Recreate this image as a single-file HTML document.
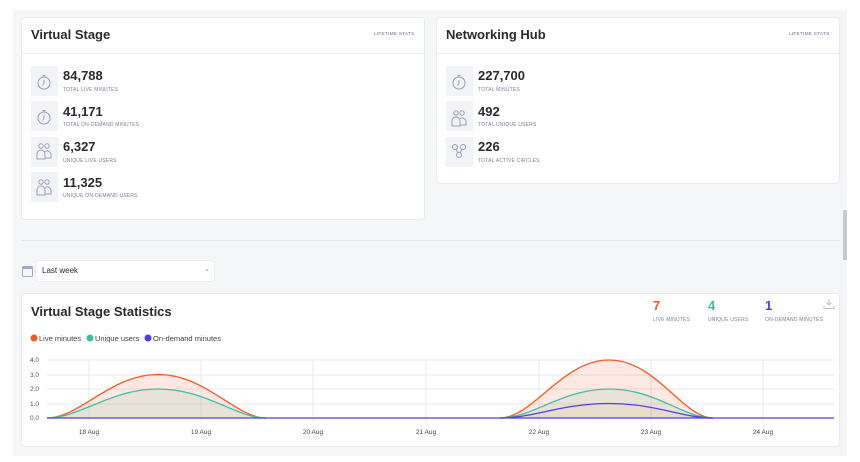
<!DOCTYPE html>
<html><head><meta charset="utf-8"><style>
*{margin:0;padding:0;box-sizing:border-box}
body{width:860px;height:462px;background:#fff;font-family:"Liberation Sans",sans-serif;position:relative;overflow:hidden;color:#2b2b33}
.a{position:absolute}
.bg{left:13px;top:10px;width:834px;height:446px;background:#f5f6f8}
.card{background:#fff;border:1px solid #e9eaee;border-radius:4px}
.t{font-weight:bold;font-size:13px;color:#2a2a30}
.ls{font-size:4.8px;color:#6b7090;letter-spacing:.2px}
.ib{width:27px;height:30px;background:#f2f3f6}
.n{font-weight:bold;font-size:13px;color:#2a2a30}
.lb{font-size:5px;color:#7a7f99;letter-spacing:.2px}
</style></head><body>
<div class="a bg"></div>
<div class="a" style="left:843px;top:210px;width:4px;height:50px;background:#c9c9cc"></div>

<div class="a card" style="left:21px;top:17px;width:404px;height:203px"></div>
<div class="a" style="left:22px;top:53px;width:402px;height:1px;background:#ececf0"></div>
<div class="a t" style="left:31px;top:27px">Virtual Stage</div>
<div class="a ls" style="left:374px;top:32px">LIFETIME STATS</div>

<div class="a card" style="left:436px;top:17px;width:404px;height:167px"></div>
<div class="a" style="left:437px;top:53px;width:402px;height:1px;background:#ececf0"></div>
<div class="a t" style="left:446px;top:27px">Networking Hub</div>
<div class="a ls" style="left:789px;top:32px">LIFETIME STATS</div>

<div class="a ib" style="left:31px;top:66px"></div>
<div class="a ib" style="left:31px;top:101px"></div>
<div class="a ib" style="left:31px;top:137px"></div>
<div class="a ib" style="left:31px;top:172px"></div>
<div class="a ib" style="left:446px;top:66px"></div>
<div class="a ib" style="left:446px;top:101px"></div>
<div class="a ib" style="left:446px;top:137px"></div>

<svg class="a" style="left:0;top:0" width="860" height="230">
<g fill="none" stroke="#9aa0b8" stroke-width="1">
<g id="clk"><circle cx="44" cy="83" r="6"/><path d="M44 80v3.5l-1.5 2M42.5 75.5h3M44 75.5v1.5"/></g>
<use href="#clk" y="35"/>
<g id="usr"><circle cx="41" cy="146" r="2.2"/><circle cx="47" cy="146" r="2.2"/><path d="M37 159v-5a4 4 0 0 1 8 0v5z M45 151.5a4 4 0 0 1 6 3.5v3h-6"/></g>
<use href="#usr" y="36"/>
<use href="#clk" x="415"/>
<use href="#usr" x="415" y="-33"/>
<g><circle cx="455" cy="147" r="2.5"/><circle cx="463" cy="147" r="2.5"/><circle cx="459" cy="155" r="2.5"/><path d="M456 149l2 4M462 149l-2 4"/></g>
</g>
</svg>
<div class="a n" style="left:63px;top:68px">84,788</div><div class="a lb" style="left:63px;top:87px">TOTAL LIVE MINUTES</div>
<div class="a n" style="left:63px;top:104px">41,171</div><div class="a lb" style="left:63px;top:122px">TOTAL ON-DEMAND MINUTES</div>
<div class="a n" style="left:63px;top:139px">6,327</div><div class="a lb" style="left:63px;top:158px">UNIQUE LIVE USERS</div>
<div class="a n" style="left:63px;top:175px">11,325</div><div class="a lb" style="left:63px;top:193px">UNIQUE ON-DEMAND USERS</div>
<div class="a n" style="left:478px;top:68px">227,700</div><div class="a lb" style="left:478px;top:87px">TOTAL MINUTES</div>
<div class="a n" style="left:478px;top:104px">492</div><div class="a lb" style="left:478px;top:122px">TOTAL UNIQUE USERS</div>
<div class="a n" style="left:478px;top:139px">226</div><div class="a lb" style="left:478px;top:158px">TOTAL ACTIVE CIRCLES</div>

<div class="a" style="left:21px;top:240px;width:819px;height:1px;background:#e3e4e8"></div>
<svg class="a" style="left:22px;top:265px" width="11" height="12"><rect x="0.5" y="1.5" width="10" height="10" rx="1" fill="none" stroke="#a6abc2"/><rect x="0.5" y="1.5" width="10" height="2.5" fill="#a6abc2"/></svg>
<div class="a card" style="left:35px;top:260px;width:180px;height:22px;border-color:#eceef2"></div>
<div class="a" style="left:42px;top:266px;font-size:8px;color:#2a2a30">Last week</div>
<div class="a" style="left:204px;top:265px;font-size:7px;color:#7a7f99">&#8964;</div>

<div class="a card" style="left:21px;top:293px;width:819px;height:154px"></div>
<div class="a t" style="left:31px;top:304px">Virtual Stage Statistics</div>
<div class="a" style="left:653px;top:298px;font-size:13px;font-weight:bold;color:#ff5722">7</div>
<div class="a" style="left:708px;top:298px;font-size:13px;font-weight:bold;color:#3fbfa0">4</div>
<div class="a" style="left:765px;top:298px;font-size:13px;font-weight:bold;color:#4a3ff0">1</div>
<div class="a lb" style="left:653px;top:317px">LIVE MINUTES</div>
<div class="a lb" style="left:708px;top:317px">UNIQUE USERS</div>
<div class="a lb" style="left:765px;top:317px">ON-DEMAND MINUTES</div>
<svg class="a" style="left:823px;top:298px" width="12" height="12"><path d="M6 1v6M3.5 4.5L6 7l2.5-2.5M1 8v2.5h10V8" fill="none" stroke="#b8bccf"/></svg>

<svg class="a" style="left:0;top:330px" width="860" height="110" font-family="Liberation Sans" >
<circle cx="34" cy="8" r="3.5" fill="#ff5722"/><text x="39" y="11" font-size="7.5" fill="#444">Live minutes</text>
<circle cx="90" cy="8" r="3.5" fill="#3fbfa0"/><text x="95" y="11" font-size="7.5" fill="#444">Unique users</text>
<circle cx="148" cy="8" r="3.5" fill="#4a3ff0"/><text x="153" y="11" font-size="7.5" fill="#444">On-demand minutes</text>
<g font-size="6.5" fill="#555">
<text x="30" y="32">4.0</text><text x="30" y="47">3.0</text><text x="30" y="61">2.0</text><text x="30" y="76">1.0</text><text x="30" y="90">0.0</text>
</g>
<g stroke="#e8e8ec" stroke-width="1">
<path d="M47 30H834M47 45H834M47 59H834M47 74H834"/>
<path d="M89 30V92M201 30V92M313 30V92M426 30V92M539 30V92M651 30V92M763 30V92"/>
</g>
<g font-size="6.5" fill="#444" text-anchor="middle">
<text x="89" y="104">18 Aug</text><text x="201" y="104">19 Aug</text><text x="313" y="104">20 Aug</text><text x="426" y="104">21 Aug</text><text x="539" y="104">22 Aug</text><text x="651" y="104">23 Aug</text><text x="763" y="104">24 Aug</text>
</g>
<path d="M47 88C80 88 110 44.5 158 44.5S236 88 266 88Z" fill="rgba(255,87,34,0.13)"/>
<path d="M47 88C80 88 110 59 158 59S236 88 266 88Z" fill="rgba(63,191,160,0.12)"/>
<path d="M47 88C80 88 110 44.5 158 44.5S236 88 266 88" fill="none" stroke="#ff5722" stroke-width="1.3"/>
<path d="M47 88C80 88 110 59 158 59S236 88 266 88" fill="none" stroke="#3fbfa0" stroke-width="1.3"/>
<path d="M500 88C533 88 562 30 609 30S683 88 713 88Z" fill="rgba(255,87,34,0.13)"/>
<path d="M500 88C533 88 562 59 609 59S683 88 713 88Z" fill="rgba(63,191,160,0.12)"/>
<path d="M500 88C533 88 562 73.5 609 73.5S683 88 713 88Z" fill="rgba(255,140,60,0.08)"/>
<path d="M500 88C533 88 562 30 609 30S683 88 713 88" fill="none" stroke="#ff5722" stroke-width="1.3"/>
<path d="M500 88C533 88 562 59 609 59S683 88 713 88" fill="none" stroke="#3fbfa0" stroke-width="1.3"/>
<path d="M500 88C533 88 562 73.5 609 73.5S683 88 713 88" fill="none" stroke="#4a3ff0" stroke-width="1.3"/>
<path d="M47 88H834" stroke="#4a3ff0" stroke-width="1.3"/>
</svg>
</body></html>
